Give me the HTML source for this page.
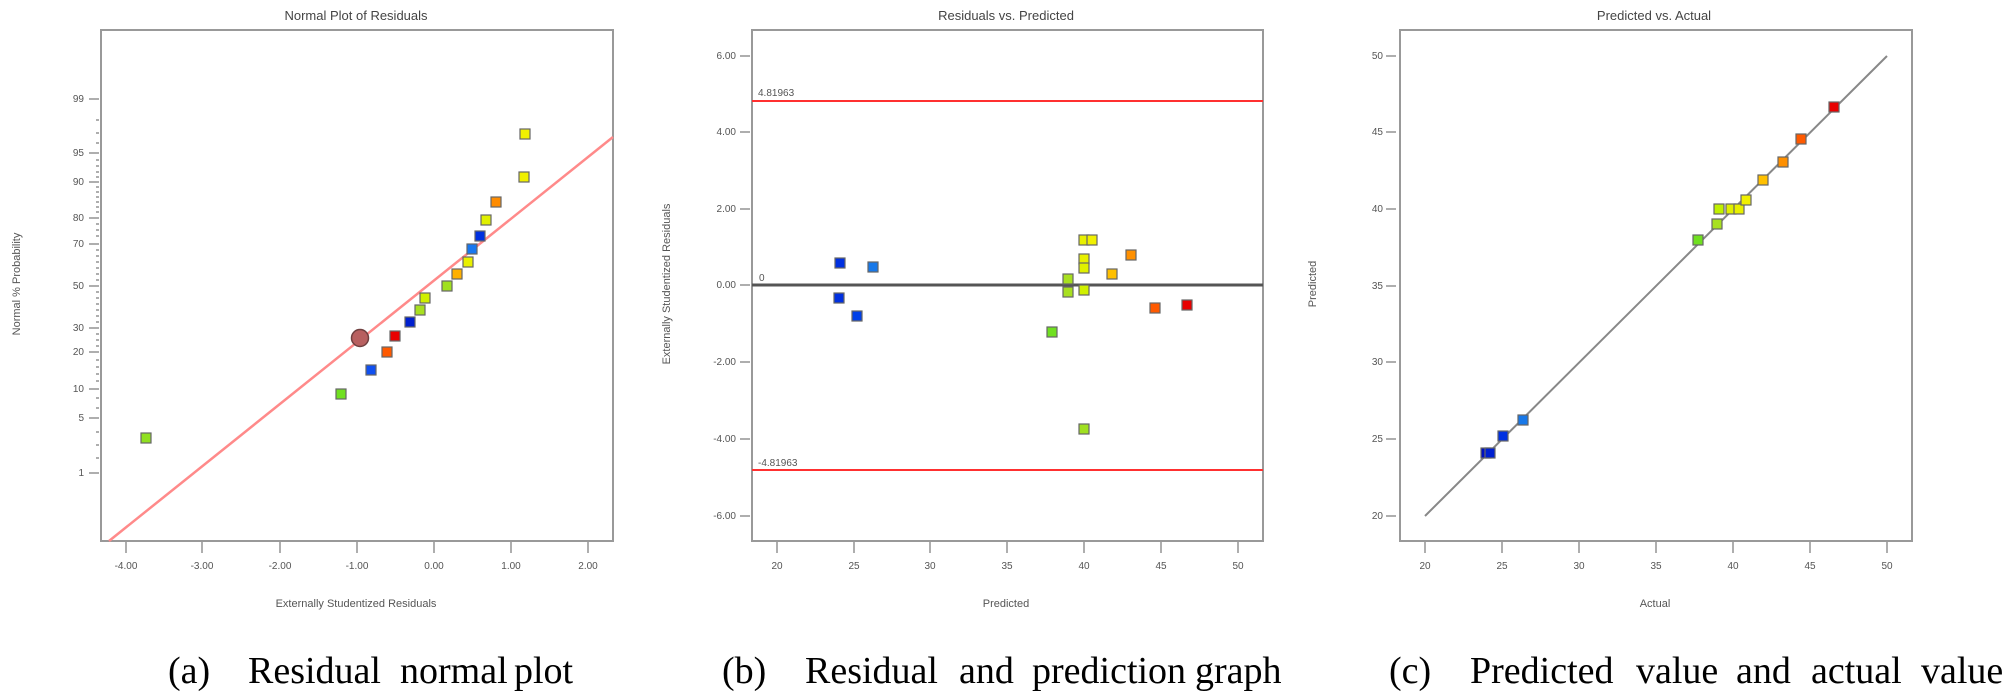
<!DOCTYPE html>
<html><head><meta charset="utf-8"><style>
html,body{margin:0;padding:0;background:#fff}
svg{display:block}
.t{font-family:"Liberation Sans",sans-serif;fill:#555;font-size:10px}
.ti{font-family:"Liberation Sans",sans-serif;fill:#444;font-size:13px}
.at{font-family:"Liberation Sans",sans-serif;fill:#555;font-size:11px}
.cap{font-family:"Liberation Serif",serif;fill:#000;font-size:38px}
.box{fill:none;stroke:#999;stroke-width:2}
.tk{stroke:#777;stroke-width:1.2}
.pt{stroke:#666;stroke-width:1.2}
</style></head><body>
<svg width="2008" height="697" viewBox="0 0 2008 697" xmlns="http://www.w3.org/2000/svg">
<!-- Panel a -->
<text class="ti" x="356" y="20" text-anchor="middle">Normal Plot of Residuals</text>
<rect class="box" x="101" y="30" width="512" height="511"/>
<g class="tk">
<line x1="89" y1="99" x2="99" y2="99"/><line x1="89" y1="153" x2="99" y2="153"/><line x1="89" y1="182" x2="99" y2="182"/>
<line x1="89" y1="218" x2="99" y2="218"/><line x1="89" y1="244" x2="99" y2="244"/><line x1="89" y1="286" x2="99" y2="286"/>
<line x1="89" y1="328" x2="99" y2="328"/><line x1="89" y1="352" x2="99" y2="352"/><line x1="89" y1="389" x2="99" y2="389"/>
<line x1="89" y1="418" x2="99" y2="418"/><line x1="89" y1="473" x2="99" y2="473"/>
</g>
<g class="tk" stroke-width="0.8">
<line x1="96" y1="120" x2="99" y2="120"/><line x1="96" y1="133" x2="99" y2="133"/><line x1="96" y1="143" x2="99" y2="143"/>
<line x1="96" y1="160" x2="99" y2="160"/><line x1="96" y1="166" x2="99" y2="166"/><line x1="96" y1="172" x2="99" y2="172"/><line x1="96" y1="177" x2="99" y2="177"/>
<line x1="96" y1="187" x2="99" y2="187"/><line x1="96" y1="192" x2="99" y2="192"/><line x1="96" y1="197" x2="99" y2="197"/><line x1="96" y1="202" x2="99" y2="202"/><line x1="96" y1="207" x2="99" y2="207"/><line x1="96" y1="212" x2="99" y2="212"/>
<line x1="96" y1="224" x2="99" y2="224"/><line x1="96" y1="230" x2="99" y2="230"/><line x1="96" y1="236" x2="99" y2="236"/>
<line x1="96" y1="250" x2="99" y2="250"/><line x1="96" y1="256" x2="99" y2="256"/><line x1="96" y1="262" x2="99" y2="262"/><line x1="96" y1="268" x2="99" y2="268"/><line x1="96" y1="274" x2="99" y2="274"/><line x1="96" y1="280" x2="99" y2="280"/>
<line x1="96" y1="292" x2="99" y2="292"/><line x1="96" y1="298" x2="99" y2="298"/><line x1="96" y1="304" x2="99" y2="304"/><line x1="96" y1="310" x2="99" y2="310"/><line x1="96" y1="316" x2="99" y2="316"/><line x1="96" y1="322" x2="99" y2="322"/>
<line x1="96" y1="334" x2="99" y2="334"/><line x1="96" y1="340" x2="99" y2="340"/><line x1="96" y1="346" x2="99" y2="346"/>
<line x1="96" y1="360" x2="99" y2="360"/><line x1="96" y1="367" x2="99" y2="367"/><line x1="96" y1="374" x2="99" y2="374"/><line x1="96" y1="381" x2="99" y2="381"/>
<line x1="96" y1="398" x2="99" y2="398"/><line x1="96" y1="408" x2="99" y2="408"/>
<line x1="96" y1="432" x2="99" y2="432"/><line x1="96" y1="445" x2="99" y2="445"/><line x1="96" y1="458" x2="99" y2="458"/>
</g>
<g class="t" text-anchor="end">
<text x="84" y="102">99</text><text x="84" y="156">95</text><text x="84" y="185">90</text><text x="84" y="221">80</text>
<text x="84" y="247">70</text><text x="84" y="289">50</text><text x="84" y="331">30</text><text x="84" y="355">20</text>
<text x="84" y="392">10</text><text x="84" y="421">5</text><text x="84" y="476">1</text>
</g>
<g class="tk">
<line x1="126" y1="542" x2="126" y2="553"/><line x1="202" y1="542" x2="202" y2="553"/><line x1="280" y1="542" x2="280" y2="553"/>
<line x1="357" y1="542" x2="357" y2="553"/><line x1="434" y1="542" x2="434" y2="553"/><line x1="511" y1="542" x2="511" y2="553"/><line x1="588" y1="542" x2="588" y2="553"/>
</g>
<g class="t" text-anchor="middle">
<text x="126" y="569">-4.00</text><text x="202" y="569">-3.00</text><text x="280" y="569">-2.00</text><text x="357" y="569">-1.00</text>
<text x="434" y="569">0.00</text><text x="511" y="569">1.00</text><text x="588" y="569">2.00</text>
</g>
<text class="at" x="356" y="607" text-anchor="middle">Externally Studentized Residuals</text>
<text class="at" transform="translate(20,284) rotate(-90)" text-anchor="middle">Normal % Probability</text>
<line x1="109" y1="541" x2="613" y2="137" stroke="#ff8a8a" stroke-width="2.5"/>
<g class="pt">
<rect x="141" y="433" width="10" height="10" fill="#90e020"/>
<rect x="336" y="389" width="10" height="10" fill="#70e020"/>
<rect x="366" y="365" width="10" height="10" fill="#1050f0"/>
<rect x="382" y="347" width="10" height="10" fill="#ff5a00"/>
<rect x="390" y="331" width="10" height="10" fill="#e80000"/>
<rect x="405" y="317" width="10" height="10" fill="#0020d0"/>
<rect x="415" y="305" width="10" height="10" fill="#a8e020"/>
<rect x="420" y="293" width="10" height="10" fill="#d0f000"/>
<rect x="442" y="281" width="10" height="10" fill="#a0e020"/>
<rect x="452" y="269" width="10" height="10" fill="#ffb000"/>
<rect x="463" y="257" width="10" height="10" fill="#e8f000"/>
<rect x="467" y="244" width="10" height="10" fill="#1878f0"/>
<rect x="475" y="231" width="10" height="10" fill="#0030e0"/>
<rect x="481" y="215" width="10" height="10" fill="#e0f000"/>
<rect x="491" y="197" width="10" height="10" fill="#ff8c00"/>
<rect x="519" y="172" width="10" height="10" fill="#f0f000"/>
<rect x="520" y="129" width="10" height="10" fill="#f0f000"/>
</g>
<circle cx="360" cy="338" r="8.5" fill="#b86060" stroke="#704040" stroke-width="1.5"/>
<g class="cap">
<text x="168" y="683">(a)</text><text x="248" y="683">Residual</text><text x="400" y="683">normal</text><text x="514" y="683">plot</text>
</g>

<!-- Panel b -->
<text class="ti" x="1006" y="20" text-anchor="middle">Residuals vs. Predicted</text>
<rect class="box" x="752" y="30" width="511" height="511"/>
<g class="tk">
<line x1="740" y1="56" x2="750" y2="56"/><line x1="740" y1="132" x2="750" y2="132"/><line x1="740" y1="209" x2="750" y2="209"/>
<line x1="740" y1="285" x2="750" y2="285"/><line x1="740" y1="362" x2="750" y2="362"/><line x1="740" y1="439" x2="750" y2="439"/><line x1="740" y1="516" x2="750" y2="516"/>
</g>
<g class="t" text-anchor="end">
<text x="736" y="59">6.00</text><text x="736" y="135">4.00</text><text x="736" y="212">2.00</text><text x="736" y="288">0.00</text>
<text x="736" y="365">-2.00</text><text x="736" y="442">-4.00</text><text x="736" y="519">-6.00</text>
</g>
<g class="tk">
<line x1="777" y1="542" x2="777" y2="553"/><line x1="854" y1="542" x2="854" y2="553"/><line x1="930" y1="542" x2="930" y2="553"/>
<line x1="1007" y1="542" x2="1007" y2="553"/><line x1="1084" y1="542" x2="1084" y2="553"/><line x1="1161" y1="542" x2="1161" y2="553"/><line x1="1238" y1="542" x2="1238" y2="553"/>
</g>
<g class="t" text-anchor="middle">
<text x="777" y="569">20</text><text x="854" y="569">25</text><text x="930" y="569">30</text><text x="1007" y="569">35</text>
<text x="1084" y="569">40</text><text x="1161" y="569">45</text><text x="1238" y="569">50</text>
</g>
<text class="at" x="1006" y="607" text-anchor="middle">Predicted</text>
<text class="at" transform="translate(670,284) rotate(-90)" text-anchor="middle">Externally Studentized Residuals</text>
<line x1="752" y1="101" x2="1263" y2="101" stroke="#ff3030" stroke-width="2"/>
<line x1="752" y1="470" x2="1263" y2="470" stroke="#ff3030" stroke-width="2"/>
<line x1="752" y1="285" x2="1263" y2="285" stroke="#555" stroke-width="3"/>
<text class="t" x="758" y="96" font-size="9">4.81963</text>
<text class="t" x="758" y="466" font-size="9">-4.81963</text>
<text class="t" x="759" y="281" font-size="9">0</text>
<g class="pt">
<rect x="835" y="258" width="10" height="10" fill="#0030e0"/>
<rect x="834" y="293" width="10" height="10" fill="#0030e0"/>
<rect x="852" y="311" width="10" height="10" fill="#0040e8"/>
<rect x="868" y="262" width="10" height="10" fill="#1878e8"/>
<rect x="1047" y="327" width="10" height="10" fill="#70e020"/>
<rect x="1063" y="274" width="10" height="10" fill="#a8e020"/>
<rect x="1063" y="287" width="10" height="10" fill="#a8e020"/>
<rect x="1079" y="235" width="10" height="10" fill="#e8f000"/>
<rect x="1087" y="235" width="10" height="10" fill="#f0f000"/>
<rect x="1079" y="254" width="10" height="10" fill="#e8f000"/>
<rect x="1079" y="263" width="10" height="10" fill="#e0f000"/>
<rect x="1079" y="285" width="10" height="10" fill="#d0f000"/>
<rect x="1107" y="269" width="10" height="10" fill="#ffc000"/>
<rect x="1126" y="250" width="10" height="10" fill="#ff9000"/>
<rect x="1150" y="303" width="10" height="10" fill="#ff5a00"/>
<rect x="1182" y="300" width="10" height="10" fill="#e80000"/>
<rect x="1079" y="424" width="10" height="10" fill="#a0e020"/>
</g>
<g class="cap">
<text x="722" y="683">(b)</text><text x="805" y="683">Residual</text><text x="959" y="683">and</text><text x="1032" y="683">prediction</text><text x="1195" y="683">graph</text>
</g>

<!-- Panel c -->
<text class="ti" x="1654" y="20" text-anchor="middle">Predicted vs. Actual</text>
<rect class="box" x="1400" y="30" width="512" height="511"/>
<g class="tk">
<line x1="1386" y1="56" x2="1396" y2="56"/><line x1="1386" y1="132" x2="1396" y2="132"/><line x1="1386" y1="209" x2="1396" y2="209"/>
<line x1="1386" y1="286" x2="1396" y2="286"/><line x1="1386" y1="362" x2="1396" y2="362"/><line x1="1386" y1="439" x2="1396" y2="439"/><line x1="1386" y1="516" x2="1396" y2="516"/>
</g>
<g class="t" text-anchor="end">
<text x="1383" y="59">50</text><text x="1383" y="135">45</text><text x="1383" y="212">40</text><text x="1383" y="289">35</text>
<text x="1383" y="365">30</text><text x="1383" y="442">25</text><text x="1383" y="519">20</text>
</g>
<g class="tk">
<line x1="1425" y1="542" x2="1425" y2="553"/><line x1="1502" y1="542" x2="1502" y2="553"/><line x1="1579" y1="542" x2="1579" y2="553"/>
<line x1="1656" y1="542" x2="1656" y2="553"/><line x1="1733" y1="542" x2="1733" y2="553"/><line x1="1810" y1="542" x2="1810" y2="553"/><line x1="1887" y1="542" x2="1887" y2="553"/>
</g>
<g class="t" text-anchor="middle">
<text x="1425" y="569">20</text><text x="1502" y="569">25</text><text x="1579" y="569">30</text><text x="1656" y="569">35</text>
<text x="1733" y="569">40</text><text x="1810" y="569">45</text><text x="1887" y="569">50</text>
</g>
<text class="at" x="1655" y="607" text-anchor="middle">Actual</text>
<text class="at" transform="translate(1316,284) rotate(-90)" text-anchor="middle">Predicted</text>
<line x1="1425" y1="516" x2="1887" y2="56" stroke="#888" stroke-width="2"/>
<g class="pt">
<rect x="1481" y="448" width="10" height="10" fill="#0010c0"/>
<rect x="1485" y="448" width="10" height="10" fill="#0020d0"/>
<rect x="1498" y="431" width="10" height="10" fill="#0030e0"/>
<rect x="1518" y="415" width="10" height="10" fill="#1878e8"/>
<rect x="1693" y="235" width="10" height="10" fill="#70e020"/>
<rect x="1712" y="219" width="10" height="10" fill="#a8e020"/>
<rect x="1714" y="204" width="10" height="10" fill="#c0f000"/>
<rect x="1726" y="204" width="10" height="10" fill="#e0f000"/>
<rect x="1734" y="204" width="10" height="10" fill="#e8f000"/>
<rect x="1741" y="195" width="10" height="10" fill="#f0f000"/>
<rect x="1758" y="175" width="10" height="10" fill="#ffc000"/>
<rect x="1778" y="157" width="10" height="10" fill="#ff9000"/>
<rect x="1796" y="134" width="10" height="10" fill="#ff5a00"/>
<rect x="1829" y="102" width="10" height="10" fill="#e80000"/>
</g>
<g class="cap">
<text x="1389" y="683">(c)</text><text x="1470" y="683">Predicted</text><text x="1636" y="683">value</text><text x="1736" y="683">and</text><text x="1811" y="683">actual</text><text x="1921" y="683">value</text>
</g>
</svg>
</body></html>
